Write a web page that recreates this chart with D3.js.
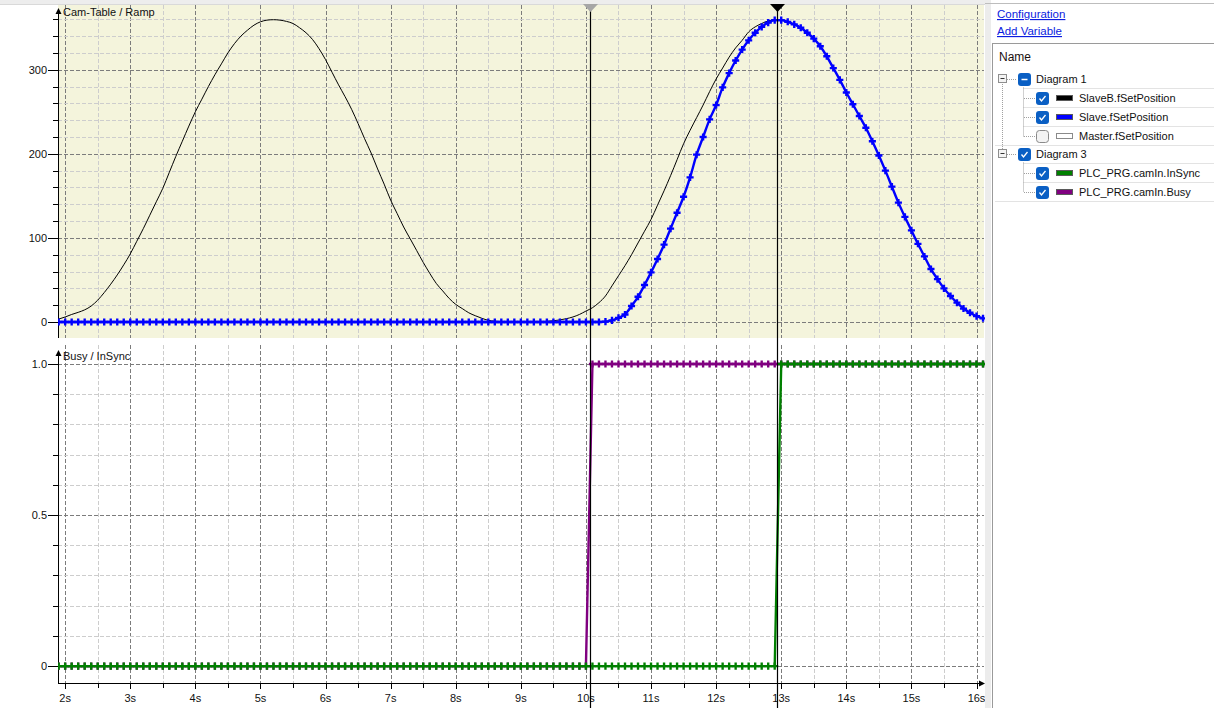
<!DOCTYPE html>
<html><head><meta charset="utf-8">
<script src="https://cdn.jsdelivr.net/npm/d3@7"></script>
<style>
html,body{margin:0;padding:0;background:#fff;overflow:hidden}
svg{display:block;font-family:"Liberation Sans",Arial,sans-serif}
</style></head><body>
<svg id="c" width="1214" height="708"></svg>
<script>
// ---------------- data ----------------
const sampleStart = 1.9, sampleStep = 0.1;   // seconds
const slaveB = [
 3.5,
 6,9,11.5,14.5,19,26,35,45,56,68,
 81,96,111,127,143,159,178,197,215,233,
 250,265,280,294,307,320,331,340,347,353,
 357,359,359.5,359,357.5,355,350,344,336,325,
 312,297,282,268,253,236,218,201,182,164,
 145,129,113,99,85,71,58,46,37,28,
 21,16,11,7.5,4.5,2,1,0.3,0,0,
 0,0,0,0.3,0.8,1.5,2.5,4,6,9,
 13,17,23,31,43,55,67,80,94,108,
 122,139,156,174,193,212,228,243,258,274,
 289,302,315,326,335,345,351,355,358,359.5,
 359,357,354,350,344,337,328,316,302,288,
 273,259,245,231,215,198,180,161,142,125,
 109,93,78,63,51,40,31,23,16,11,
 7,4.4
];
const slave = [
 0,
 0,0,0,0,0,0,0,0,0,0,
 0,0,0,0,0,0,0,0,0,0,
 0,0,0,0,0,0,0,0,0,0,
 0,0,0,0,0,0,0,0,0,0,
 0,0,0,0,0,0,0,0,0,0,
 0,0,0,0,0,0,0,0,0,0,
 0,0,0,0,0,0,0,0,0,0,
 0,0,0,0,0,0,0,0,0,0,
 0,0,0,0.5,2,5,9,19,30,44,
 59,75,92,111,130,149,172,199,220,241,
 258,279,296,311,324,335,344,351,356,359,
 359,357,354,350,344,337,328,316,302,288,
 273,259,245,231,215,198,180,161,142,125,
 109,93,78,63,51,40,31,23,16,11,
 7,4.4
];
const busy = [
 0,
 0,0,0,0,0,0,0,0,0,0,
 0,0,0,0,0,0,0,0,0,0,
 0,0,0,0,0,0,0,0,0,0,
 0,0,0,0,0,0,0,0,0,0,
 0,0,0,0,0,0,0,0,0,0,
 0,0,0,0,0,0,0,0,0,0,
 0,0,0,0,0,0,0,0,0,0,
 0,0,0,0,0,0,0,0,0,0,
 0,1,1,1,1,1,1,1,1,1,
 1,1,1,1,1,1,1,1,1,1,
 1,1,1,1,1,1,1,1,1,1,
 1,1,1,1,1,1,1,1,1,1,
 1,1,1,1,1,1,1,1,1,1,
 1,1,1,1,1,1,1,1,1,1,
 1,1
];
const inSync = [
 0,
 0,0,0,0,0,0,0,0,0,0,
 0,0,0,0,0,0,0,0,0,0,
 0,0,0,0,0,0,0,0,0,0,
 0,0,0,0,0,0,0,0,0,0,
 0,0,0,0,0,0,0,0,0,0,
 0,0,0,0,0,0,0,0,0,0,
 0,0,0,0,0,0,0,0,0,0,
 0,0,0,0,0,0,0,0,0,0,
 0,0,0,0,0,0,0,0,0,0,
 0,0,0,0,0,0,0,0,0,0,
 0,0,0,0,0,0,0,0,0,0,
 1,1,1,1,1,1,1,1,1,1,
 1,1,1,1,1,1,1,1,1,1,
 1,1,1,1,1,1,1,1,1,1,
 1,1
];
const xTickSeconds = [2,3,4,5,6,7,8,9,10,11,12,13,14,15,16];
const xMinorSeconds = [2.5,3.5,4.5,5.5,6.5,7.5,8.5,9.5,10.5,11.5,12.5,13.5,14.5,15.5];
const topTicks = [0,100,200,300];
const topMinor = [20,40,60,80,120,140,160,180,220,240,260,280,320,340,360];
const botTicks = [0,0.5,1.0];
const botTickLabels = ["0","0.5","1.0"];
const botMinor = [0.1,0.2,0.3,0.4,0.6,0.7,0.8,0.9];
const cursorTimes = [10.07, 12.94];
const panelTitles = ["Cam-Table / Ramp", "Busy / InSync"];
const treeRows = [
  {label:"Diagram 1", level:0, state:"partial"},
  {label:"SlaveB.fSetPosition", level:1, state:"checked", color:"#000000"},
  {label:"Slave.fSetPosition", level:1, state:"checked", color:"#0000ff"},
  {label:"Master.fSetPosition", level:1, state:"unchecked", color:"#ffffff"},
  {label:"Diagram 3", level:0, state:"checked"},
  {label:"PLC_PRG.camIn.InSync", level:1, state:"checked", color:"#008000"},
  {label:"PLC_PRG.camIn.Busy", level:1, state:"checked", color:"#800080"}
];

// ---------------- drawing ----------------
const svg = d3.select('#c');
const times = slaveB.map((_, i) => sampleStart + i * sampleStep);
const x = d3.scaleLinear().domain([1.89, 16.115]).range([58, 984]);
const yT = d3.scaleLinear().domain([-19, 377]).range([338, 5]);
const yB = d3.scaleLinear().domain([-0.056, 1.063]).range([683, 345]);

const L = 58, R = 984;
const MAJ = '#7c7c7c', MIN = '#cdcdcd', DASH = '4,2';

// top scroll strip
svg.append('rect').attr('x',0).attr('y',0).attr('width',986).attr('height',4).attr('fill','#ededed');
svg.append('line').attr('x1',0).attr('x2',986).attr('y1',4.5).attr('y2',4.5).attr('stroke','#d9d9d9');

// top panel background
svg.append('rect').attr('x',L).attr('y',5).attr('width',R-L).attr('height',333).attr('fill','#f4f4dc');

const defs = svg.append('defs');
defs.append('clipPath').attr('id','clipT').append('rect').attr('x',L).attr('y',5).attr('width',R-L+2).attr('height',333);
defs.append('clipPath').attr('id','clipB').append('rect').attr('x',L).attr('y',345).attr('width',R-L+2).attr('height',338);

function vgrid(y0, y1) {
  const g = svg.append('g');
  g.selectAll('.mn').data(xMinorSeconds).join('line')
    .attr('x1', d => Math.round(x(d))+0.5).attr('x2', d => Math.round(x(d))+0.5)
    .attr('y1', y0).attr('y2', y1).attr('stroke', MIN).attr('stroke-dasharray', DASH);
  g.selectAll('.mj').data(xTickSeconds).join('line')
    .attr('x1', d => Math.round(x(d))+0.5).attr('x2', d => Math.round(x(d))+0.5)
    .attr('y1', y0).attr('y2', y1).attr('stroke', MAJ).attr('stroke-dasharray', DASH);
}
function hgrid(scale, minor, major) {
  const g = svg.append('g');
  g.selectAll('.mn').data(minor).join('line')
    .attr('x1', L).attr('x2', R)
    .attr('y1', d => Math.round(scale(d))+0.5).attr('y2', d => Math.round(scale(d))+0.5)
    .attr('stroke', MIN).attr('stroke-dasharray', DASH);
  g.selectAll('.mj').data(major).join('line')
    .attr('x1', L).attr('x2', R)
    .attr('y1', d => Math.round(scale(d))+0.5).attr('y2', d => Math.round(scale(d))+0.5)
    .attr('stroke', MAJ).attr('stroke-dasharray', DASH);
}
vgrid(5, 338); hgrid(yT, topMinor, topTicks);
vgrid(345, 683); hgrid(yB, botMinor, botTicks);

// ---- y axes ----
function yAxis(scale, ticks, labels, minor, top, bottom) {
  const g = svg.append('g');
  g.append('line').attr('x1', L+0.5).attr('x2', L+0.5).attr('y1', top+3).attr('y2', bottom).attr('stroke','#000');
  g.append('path').attr('d', `M${L+0.5},${top} L${L+3.5},${top+6} L${L-2.5},${top+6} Z`).attr('fill','#000');
  g.selectAll('.mt').data(minor).join('line')
    .attr('x1', L-5).attr('x2', L)
    .attr('y1', d => Math.round(scale(d))+0.5).attr('y2', d => Math.round(scale(d))+0.5).attr('stroke','#000');
  g.selectAll('.Mt').data(ticks).join('line')
    .attr('x1', L-10).attr('x2', L)
    .attr('y1', d => Math.round(scale(d))+0.5).attr('y2', d => Math.round(scale(d))+0.5).attr('stroke','#000');
  g.selectAll('text').data(ticks).join('text')
    .attr('x', L-11).attr('y', d => scale(d)).attr('dy','0.36em')
    .attr('text-anchor','end').attr('font-size', 11).attr('fill','#111')
    .text((d,i) => labels[i]);
}
yAxis(yT, topTicks, topTicks.map(String), topMinor, 8, 338);
yAxis(yB, botTicks, botTickLabels, botMinor, 350, 683);

// ---- x axis ----
const xa = svg.append('g');
xa.append('line').attr('x1', L).attr('x2', R-2).attr('y1', 683.5).attr('y2', 683.5).attr('stroke','#000');
xa.append('path').attr('d', `M${R+1},683.5 L${R-5},680.5 L${R-5},686.5 Z`).attr('fill','#000');
xa.selectAll('.mn').data(xMinorSeconds).join('line')
  .attr('x1', d => Math.round(x(d))+0.5).attr('x2', d => Math.round(x(d))+0.5)
  .attr('y1', 683).attr('y2', 688).attr('stroke','#000');
xa.selectAll('.mj').data(xTickSeconds).join('line')
  .attr('x1', d => Math.round(x(d))+0.5).attr('x2', d => Math.round(x(d))+0.5)
  .attr('y1', 683).attr('y2', 689).attr('stroke','#000');
xa.selectAll('text').data(xTickSeconds).join('text')
  .attr('x', d => x(d)).attr('y', 702).attr('text-anchor','middle')
  .attr('font-size', 11).attr('fill','#111').text(d => d + 's');

// ---- panel titles ----
svg.append('text').attr('x', 63).attr('y', 16).attr('font-size', 11).attr('fill','#111').text(panelTitles[0]);
svg.append('text').attr('x', 63).attr('y', 360).attr('font-size', 11).attr('fill','#111').text(panelTitles[1]);

// ---- series ----
const cross = d3.symbol().type(d3.symbolCross).size(28);
function series(scale, values, color, width, markers, clip, curve) {
  const pts = values.map((v, i) => [times[i], v]);
  const g = svg.append('g').attr('clip-path', `url(#${clip})`);
  g.append('path').datum(pts)
    .attr('d', d3.line().curve(curve).x(d => x(d[0])).y(d => scale(d[1])))
    .attr('fill','none').attr('stroke', color).attr('stroke-width', width).attr('stroke-linejoin','round');
  if (markers) {
    g.selectAll('path.m').data(pts).join('path').attr('class','m')
      .attr('transform', d => `translate(${x(d[0])},${scale(d[1])})`)
      .attr('d', cross).attr('fill', color);
  }
}
series(yT, slaveB, '#000000', 1, false, 'clipT', d3.curveMonotoneX);
series(yT, slave, '#0000ff', 2.4, true, 'clipT', d3.curveMonotoneX);
series(yB, busy, '#800080', 2.4, true, 'clipB', d3.curveLinear);
series(yB, inSync, '#008000', 2.4, true, 'clipB', d3.curveLinear);

// ---- cursors ----
const cg = svg.append('g');
cursorTimes.forEach((t, i) => {
  const cx = Math.round(x(t)) + 0.5;
  cg.append('line').attr('x1', cx).attr('x2', cx).attr('y1', 5).attr('y2', 708).attr('stroke','#000').attr('stroke-width', 1.2);
  cg.append('path').attr('d', `M${cx-7.5},4 L${cx+7.5},4 L${cx},12 Z`).attr('fill', i === 0 ? '#a6a6a6' : '#000');
});

// ---------------- right panel ----------------
const rp = svg.append('g');
rp.append('rect').attr('x', 985).attr('y', 0).attr('width', 229).attr('height', 708).attr('fill','#ffffff');
rp.append('rect').attr('x', 985).attr('y', 0).attr('width', 6).attr('height', 708).attr('fill','#ececec');
rp.append('line').attr('x1', 985).attr('x2', 1214).attr('y1', 3.5).attr('y2', 3.5).attr('stroke','#bdbdbd');
rp.append('text').attr('x', 997).attr('y', 18).attr('font-size', 11.5).attr('fill','#0b1be0')
  .attr('text-decoration','underline').text('Configuration');
rp.append('text').attr('x', 997).attr('y', 35).attr('font-size', 11.5).attr('fill','#0b1be0')
  .attr('text-decoration','underline').text('Add Variable');
rp.append('rect').attr('x', 992.5).attr('y', 43.5).attr('width', 240).attr('height', 700)
  .attr('fill','#fff').attr('stroke','#9a9a9a');
rp.append('text').attr('x', 999).attr('y', 61).attr('font-size', 12).attr('fill','#1a1010').text('Name');

const rowY = i => 79 + i * 18.85;
const sepStart = [1023, 1023, 1023, 995, 1023, 1023, 995];
treeRows.forEach((r, i) => {
  const cy = Math.round(rowY(i));
  rp.append('line').attr('x1', sepStart[i]).attr('x2', 1214).attr('y1', cy + 9.5).attr('y2', cy + 9.5).attr('stroke','#e3e3e3');
});
// tree dotted lines
const dot = {stroke:'#a0a0a0', 'stroke-dasharray':'1,1'};
function dl(x1,y1,x2,y2){ const l = rp.append('line').attr('x1',x1).attr('y1',y1).attr('x2',x2).attr('y2',y2); Object.entries(dot).forEach(([k,v])=>l.attr(k,v)); }
dl(1002.5, 84, 1002.5, Math.round(rowY(4)) - 4);
const groups = [[0,[1,2,3]],[4,[5,6]]];
groups.forEach(([p, kids]) => {
  const py = Math.round(rowY(p)) + 0.5;
  dl(1007, py, 1017, py);
  const lastY = Math.round(rowY(kids[kids.length-1])) + 0.5;
  dl(1023.5, py + 8, 1023.5, lastY);
  kids.forEach(k => { const ky = Math.round(rowY(k)) + 0.5; dl(1024, ky, 1035, ky); });
});
treeRows.forEach((r, i) => {
  const cy = Math.round(rowY(i));
  if (r.level === 0) {
    rp.append('rect').attr('x', 998.5).attr('y', cy - 4.5).attr('width', 8).attr('height', 8)
      .attr('fill','#f4f4f4').attr('stroke','#8e8e8e');
    rp.append('line').attr('x1', 1000.5).attr('x2', 1004.5).attr('y1', cy - 0.5).attr('y2', cy - 0.5).attr('stroke','#333');
  }
  const bx = r.level === 0 ? 1018 : 1036;
  if (r.state === 'unchecked') {
    rp.append('rect').attr('x', bx + 0.5).attr('y', cy - 5.5).attr('width', 12).attr('height', 12).attr('rx', 3)
      .attr('fill','#f3f3f3').attr('stroke','#8a8a8a');
  } else {
    rp.append('rect').attr('x', bx).attr('y', cy - 6).attr('width', 13).attr('height', 13).attr('rx', 3).attr('fill','#0a5fc4');
    if (r.state === 'checked') {
      rp.append('path').attr('d', `M${bx+3.5},${cy+0.5} L${bx+5.5},${cy+3} L${bx+9.5},${cy-2}`)
        .attr('fill','none').attr('stroke','#fff').attr('stroke-width', 1.3);
    } else {
      rp.append('line').attr('x1', bx + 3.5).attr('x2', bx + 9.5).attr('y1', cy + 0.5).attr('y2', cy + 0.5)
        .attr('stroke','#fff').attr('stroke-width', 1.5);
    }
  }
  let tx = bx + 18;
  if (r.level === 1) {
    rp.append('rect').attr('x', 1056.5).attr('y', cy - 2.5).attr('width', 16).attr('height', 5)
      .attr('fill', r.color).attr('stroke', r.state === 'unchecked' ? '#8a8a8a' : '#5a5a5a');
    tx = 1079;
  }
  rp.append('text').attr('x', tx).attr('y', cy + 4).attr('font-size', 11).attr('fill','#111').text(r.label);
});
</script>
</body></html>
